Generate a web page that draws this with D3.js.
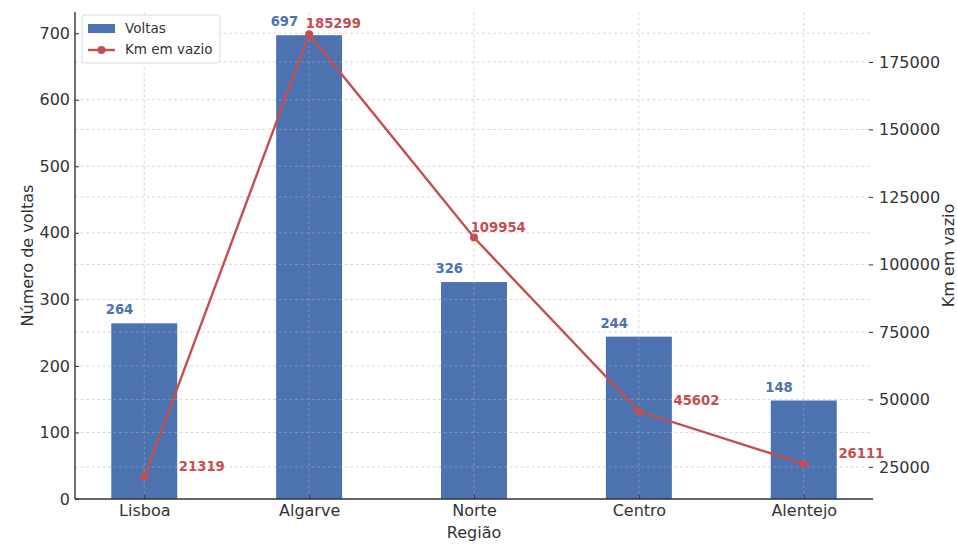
<!DOCTYPE html>
<html>
<head>
<meta charset="utf-8">
<script src="https://cdn.jsdelivr.net/npm/d3@7"></script>
<style>
  html, body { margin: 0; padding: 0; background: #fff; }
  svg { display: block; font-family: "DejaVu Sans", sans-serif; }
</style>
</head>
<body>
<svg id="chart" width="957" height="546"></svg>
<script>
// Regions and their figures
const regions = ["Lisboa", "Algarve", "Norte", "Centro", "Alentejo"];
const voltas = [264, 697, 326, 244, 148];
const kmVazio = [21319, 185299, 109954, 45602, 26111];
const leftTicks = [0, 100, 200, 300, 400, 500, 600, 700];
const rightTicks = [25000, 50000, 75000, 100000, 125000, 150000, 175000];

// Horizontal nudge (in category units) for each km label
const kmLabelShift = [0.21, -0.02, -0.02, 0.21, 0.21];

const blue = "#4c72b0", red = "#c44e52", ink = "#333";
const m = { left: 75, right: 873, top: 12, bottom: 499 };
const FONT = "DejaVu Sans, sans-serif";

const svg = d3.select("#chart");

const x = d3.scaleLinear().domain([-0.42, regions.length - 1 + 0.42]).range([m.left, m.right]);
const yL = d3.scaleLinear().domain([0, d3.max(voltas) * 1.05]).range([m.bottom, m.top]);
const kmMin = d3.min(kmVazio), kmMax = d3.max(kmVazio), kmPad = (kmMax - kmMin) * 0.05;
const yR = d3.scaleLinear().domain([kmMin - kmPad, kmMax + kmPad]).range([m.bottom, m.top]);

const barW = x(0.4) - x(0);

// Bars
svg.append("g").selectAll("rect").data(voltas).join("rect")
  .attr("x", (d, i) => x(i) - barW / 2)
  .attr("y", d => yL(d))
  .attr("width", barW)
  .attr("height", d => yL(0) - yL(d))
  .attr("fill", blue);

// Grid (drawn over the bars, faint)
const grid = svg.append("g").attr("stroke", "#b0b0b0").attr("stroke-opacity", 0.6)
  .attr("stroke-width", 0.8).attr("stroke-dasharray", "3,2.5");
grid.selectAll(".gl").data(leftTicks.slice(1)).join("line")
  .attr("x1", m.left).attr("x2", m.right)
  .attr("y1", d => yL(d)).attr("y2", d => yL(d));
grid.selectAll(".gr").data(rightTicks).join("line")
  .attr("x1", m.left).attr("x2", m.right)
  .attr("y1", d => yR(d)).attr("y2", d => yR(d));
grid.selectAll(".gv").data(regions).join("line")
  .attr("x1", (d, i) => x(i)).attr("x2", (d, i) => x(i))
  .attr("y1", m.top).attr("y2", m.bottom);

// Axes (ticks point inward)
const axL = svg.append("g").attr("transform", `translate(${m.left},0)`)
  .call(d3.axisLeft(yL).tickValues(leftTicks).tickSize(-4).tickPadding(5));
const axR = svg.append("g").attr("transform", `translate(${m.right},0)`)
  .call(d3.axisRight(yR).tickValues(rightTicks).tickFormat(d3.format("d")).tickSize(-4).tickPadding(6));
const axB = svg.append("g").attr("transform", `translate(0,${m.bottom})`)
  .call(d3.axisBottom(x).tickValues(d3.range(regions.length)).tickFormat(i => regions[i]).tickSize(-4).tickPadding(6));

[axL, axR, axB].forEach(a => {
  a.attr("font-family", FONT).attr("font-size", 16);
  a.selectAll("text").attr("fill", ink);
  a.selectAll(".tick line").attr("stroke", ink).attr("stroke-width", 1);
});
axR.select(".domain").remove();
axB.select(".domain").attr("d", `M${m.left},0H${m.right}`);
axL.select(".domain").attr("d", `M0,${m.top}V${m.bottom}`);
[axL, axB].forEach(a => a.select(".domain").attr("stroke", ink).attr("stroke-width", 1.4));

// Line series
const line = d3.line().x((d, i) => x(i)).y(d => yR(d));
svg.append("path").datum(kmVazio)
  .attr("d", line).attr("fill", "none").attr("stroke", red).attr("stroke-width", 2.4);
svg.append("g").selectAll("circle").data(kmVazio).join("circle")
  .attr("cx", (d, i) => x(i)).attr("cy", d => yR(d)).attr("r", 4).attr("fill", red);

// Value labels
svg.append("g").selectAll("text").data(voltas).join("text")
  .attr("x", (d, i) => x(i - 0.15)).attr("y", d => yL(d) - 9)
  .attr("text-anchor", "middle").attr("fill", blue)
  .style("font-size", "13.2px").style("font-weight", "bold")
  .text(d => d);
svg.append("g").selectAll("text").data(kmVazio).join("text")
  .attr("x", (d, i) => x(i + kmLabelShift[i])).attr("y", d => yR(d) - 6)
  .attr("text-anchor", "start").attr("fill", red)
  .style("font-size", "13.2px").style("font-weight", "bold")
  .text(d => d);

// Axis titles
svg.append("text").attr("transform", `translate(33,${(m.top + m.bottom) / 2}) rotate(-90)`)
  .attr("text-anchor", "middle").attr("fill", ink).style("font-size", "16px").text("Número de voltas");
svg.append("text").attr("transform", `translate(954,${(m.top + m.bottom) / 2}) rotate(-90)`)
  .attr("text-anchor", "middle").attr("fill", ink).style("font-size", "16px").text("Km em vazio");
svg.append("text").attr("x", (m.left + m.right) / 2).attr("y", 538)
  .attr("text-anchor", "middle").attr("fill", ink).style("font-size", "16px").text("Região");

// Legend
const lg = svg.append("g").attr("transform", "translate(82,15)");
lg.append("rect").attr("width", 138).attr("height", 48).attr("rx", 3)
  .attr("fill", "#fff").attr("fill-opacity", 0.8).attr("stroke", "#ddd");
lg.append("rect").attr("x", 6).attr("y", 9).attr("width", 27).attr("height", 9).attr("fill", blue);
lg.append("text").attr("x", 43).attr("y", 18).attr("fill", ink).style("font-size", "13.5px").text("Voltas");
lg.append("line").attr("x1", 6).attr("x2", 33).attr("y1", 35).attr("y2", 35)
  .attr("stroke", red).attr("stroke-width", 2.4);
lg.append("circle").attr("cx", 19.5).attr("cy", 35).attr("r", 4).attr("fill", red);
lg.append("text").attr("x", 43).attr("y", 39).attr("fill", ink).style("font-size", "13.5px").text("Km em vazio");
</script>
</body>
</html>
